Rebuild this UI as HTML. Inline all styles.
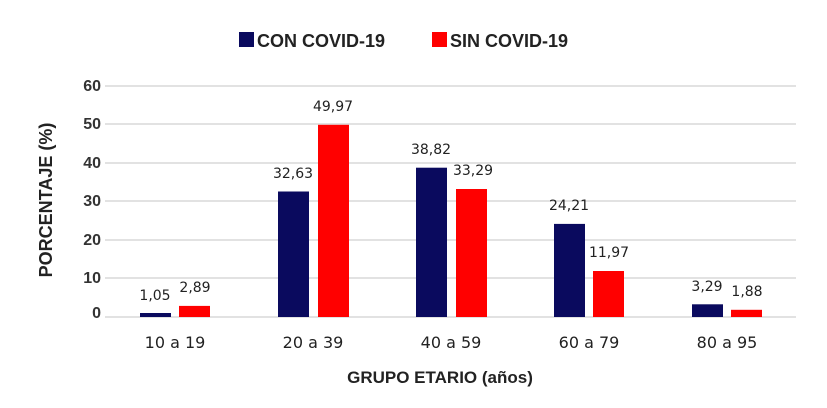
<!DOCTYPE html>
<html><head><meta charset="utf-8"><style>body{margin:0;background:#fff}svg{display:block}</style></head><body>
<svg width="827" height="408" xmlns="http://www.w3.org/2000/svg" font-family="'DejaVu Sans','Liberation Sans',sans-serif">
<g stroke="#d9d9d9" stroke-width="1.5">
<line x1="105" x2="796" y1="86" y2="86"/><line x1="105" x2="796" y1="124" y2="124"/><line x1="105" x2="796" y1="163" y2="163"/><line x1="105" x2="796" y1="201" y2="201"/><line x1="105" x2="796" y1="240" y2="240"/><line x1="105" x2="796" y1="278" y2="278"/><line x1="105" x2="796" y1="317" y2="317"/>
</g>
<g font-size="16" fill="#333" text-anchor="end" font-weight="bold" font-family="'Liberation Sans',sans-serif">
<text x="101" y="91">60</text><text x="101" y="129">50</text><text x="101" y="168">40</text><text x="101" y="206">30</text><text x="101" y="245">20</text><text x="101" y="283">10</text><text x="101" y="318">0</text>
</g>
<g fill="#0a0a5e">
<rect x="140" y="313" width="31" height="4"/><rect x="278" y="191.5" width="31" height="125.5"/><rect x="416" y="167.7" width="31" height="149.3"/><rect x="554" y="223.9" width="31" height="93.1"/><rect x="692" y="304.3" width="31" height="12.7"/>
</g>
<g fill="#ff0000">
<rect x="179" y="305.9" width="31" height="11.1"/><rect x="318" y="124.8" width="31" height="192.2"/><rect x="456" y="189" width="31" height="128"/><rect x="593" y="271" width="31" height="46"/><rect x="731" y="309.8" width="31" height="7.2"/>
</g>
<g font-size="14" fill="#222" text-anchor="middle">
<text x="155" y="300">1,05</text><text x="195" y="292">2,89</text>
<text x="293" y="178">32,63</text><text x="333" y="111">49,97</text>
<text x="431" y="154">38,82</text><text x="473" y="175">33,29</text>
<text x="569" y="210">24,21</text><text x="609" y="257">11,97</text>
<text x="707" y="291">3,29</text><text x="747" y="296">1,88</text>
</g>
<g font-size="16" fill="#222" text-anchor="middle">
<text x="175" y="348">10 a 19</text><text x="313" y="348">20 a 39</text><text x="451" y="348">40 a 59</text><text x="589" y="348">60 a 79</text><text x="727" y="348">80 a 95</text>
</g>
<text x="440" y="383" font-size="17" font-weight="bold" fill="#222" text-anchor="middle" font-family="'Liberation Sans',sans-serif">GRUPO ETARIO (años)</text>
<text transform="translate(52,200) rotate(-90)" font-size="18" font-weight="bold" fill="#222" text-anchor="middle" font-family="'Liberation Sans',sans-serif">PORCENTAJE (%)</text>
<rect x="239" y="32" width="15" height="15" fill="#0a0a5e"/>
<text x="257" y="47" font-size="18" font-weight="bold" fill="#222" font-family="'Liberation Sans',sans-serif">CON COVID-19</text>
<rect x="432" y="32" width="15" height="15" fill="#ff0000"/>
<text x="450" y="47" font-size="18" font-weight="bold" fill="#222" font-family="'Liberation Sans',sans-serif">SIN COVID-19</text>
</svg>
</body></html>
